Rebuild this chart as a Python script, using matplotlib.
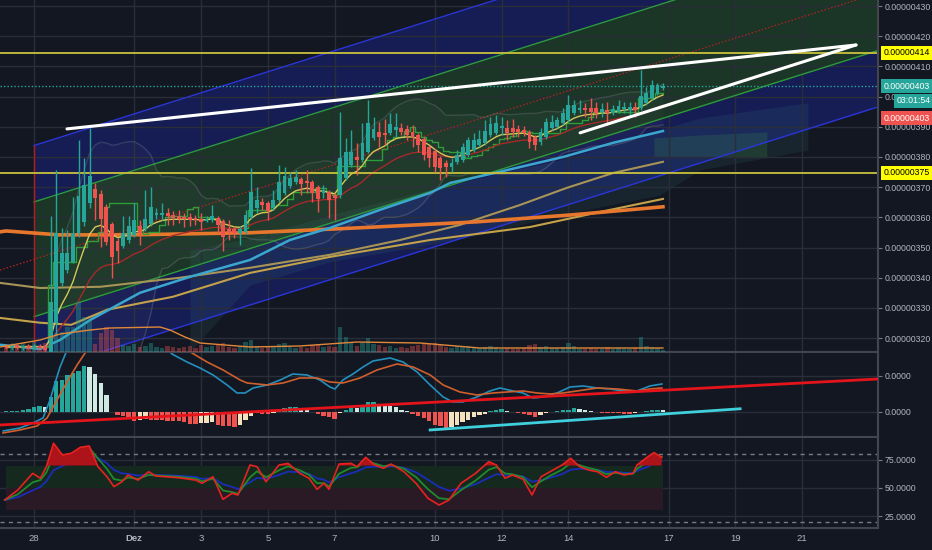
import numpy as np
import pandas as pd
import matplotlib
matplotlib.use('Agg')
import matplotlib.pyplot as plt
from matplotlib import transforms

plt.rcParams['font.family'] = ['Liberation Sans', 'DejaVu Sans']

BG = '#131722'
GRID = '#2a2e39'
SEP = '#434651'
TXT = '#b2b5be'
UP = '#26a69a'
DOWN = '#ef5350'
FS = 6.3

# x axis: days since 28 Nov, 4h candles
date_pos = [0, 3, 5, 7, 9, 12, 14, 16, 19, 21, 23]
date_labels = ['28', 'Dez', '3', '5', '7', '10', '12', '14', '17', '19', '21']
x_min, x_max = -1.018, 25.27

# price in satoshi (1e-8 BTC)
price_ticks = [320, 330, 340, 350, 360, 370, 380, 390, 400, 410, 420, 430]

opens = [317.2, 317.0, 317.6, 316.9, 317.3, 317.1, 317.5, 317.2,
         315.1, 325.1, 338.3, 342.6, 345.3, 354.9, 358.5, 364.8, 369.4, 367.8,
         363.5, 357.8, 352.2, 350.5, 352.5, 354.2, 357.2, 356.2, 357.8, 360.8,
         360.8, 361.5, 360.8, 360.3, 360.2, 360.0, 359.7, 359.6, 358.9, 359.2,
         359.7, 358.9, 356.1, 356.1, 354.8, 355.2, 360.2, 363.1, 365.2, 364.9,
         363.0, 365.8, 368.0, 370.4, 371.8, 372.7, 372.2, 371.8, 370.2, 368.0,
         368.5, 367.4, 367.4, 373.0, 377.4, 379.9, 379.0, 381.8, 386.2, 388.4,
         387.9, 387.9, 389.0, 389.7, 389.2, 388.2, 387.3, 385.9, 383.4, 382.0,
         379.6, 377.9, 376.8, 378.4, 379.0, 380.7, 382.3, 384.0, 384.6, 387.3,
         387.9, 389.5, 389.7, 389.5, 389.2, 389.0, 388.4, 386.7, 385.1, 386.7,
         389.5, 390.0, 391.2, 392.3, 394.5, 395.6, 396.1, 396.1, 396.1, 395.0,
         395.6, 394.5, 395.0, 395.8, 395.6, 396.7, 396.1, 397.8, 399.5, 401.1,
         402.8]
highs = [318.0, 318.3, 318.2, 317.8, 318.0, 318.2, 318.1, 317.8,
         360.3, 375.7, 356.5, 355.8, 366.9, 385.6, 379.7, 389.6, 371.3, 369.0,
         364.5, 358.5, 353.0, 360.3, 360.3, 364.7, 359.2, 369.1, 370.2, 363.0,
         364.7, 363.1, 362.2, 362.5, 361.6, 361.5, 360.8, 361.4, 360.5, 364.1,
         360.5, 359.5, 359.2, 357.0, 357.0, 362.5, 376.4, 370.2, 366.3, 365.5,
         369.1, 377.4, 376.8, 375.1, 375.7, 373.5, 375.7, 372.5, 370.8, 370.7,
         369.0, 368.0, 395.0, 386.2, 389.0, 384.6, 391.2, 398.9, 393.4, 391.7,
         392.5, 394.5, 394.5, 391.4, 390.6, 390.6, 388.0, 386.6, 384.0, 382.7,
         380.4, 379.0, 379.7, 382.3, 384.7, 386.6, 388.0, 389.0, 392.3, 393.4,
         393.9, 393.4, 392.3, 392.5, 390.6, 390.3, 389.0, 387.3, 389.6, 392.9,
         393.9, 393.4, 396.1, 400.5, 398.9, 398.9, 398.0, 399.4, 398.3, 397.8,
         398.3, 397.2, 398.9, 398.3, 398.3, 398.3, 408.8, 403.3, 405.5, 404.6,
         404.6]
lows = [316.4, 316.3, 316.5, 316.2, 316.5, 316.4, 316.6, 315.8,
        314.8, 321.0, 337.1, 341.5, 345.0, 353.5, 357.0, 363.0, 359.2, 350.3,
        350.9, 340.0, 344.8, 349.9, 351.5, 353.5, 350.9, 355.5, 357.0, 359.5,
        359.2, 357.5, 357.5, 358.0, 356.7, 357.0, 357.5, 355.8, 358.5, 358.5,
        354.8, 348.7, 352.5, 353.1, 350.9, 354.5, 359.5, 361.4, 362.5, 359.2,
        362.5, 365.0, 367.5, 369.8, 371.0, 367.4, 368.0, 365.2, 361.9, 366.3,
        359.7, 359.2, 366.5, 372.5, 376.8, 374.1, 378.4, 381.2, 385.6, 383.4,
        384.0, 387.3, 386.7, 387.3, 385.6, 383.4, 381.8, 379.0, 376.8, 375.1,
        372.4, 373.5, 375.0, 377.7, 378.4, 380.0, 381.7, 383.3, 384.0, 386.6,
        387.3, 387.3, 385.6, 386.7, 386.7, 387.0, 382.9, 382.3, 384.0, 386.0,
        389.0, 389.6, 390.6, 391.6, 393.9, 394.5, 393.4, 392.3, 392.8, 393.4,
        390.6, 393.9, 394.6, 394.5, 393.9, 393.4, 395.6, 397.2, 398.9, 400.5,
        402.2]
closes = [317.0, 317.6, 316.9, 317.3, 317.1, 317.5, 317.2, 316.0,
          332.1, 354.9, 348.2, 348.2, 354.9, 367.1, 370.7, 373.7, 366.4, 359.5,
          351.9, 346.9, 348.9, 354.9, 357.2, 359.2, 354.9, 359.5, 363.5, 361.4,
          361.4, 360.5, 359.8, 359.4, 359.5, 359.1, 359.1, 358.6, 359.5, 360.5,
          357.5, 353.4, 355.0, 354.8, 356.1, 360.8, 368.4, 365.8, 364.1, 362.1,
          365.8, 371.8, 373.7, 373.2, 373.5, 371.1, 371.3, 368.0, 366.1, 369.1,
          365.8, 366.3, 379.6, 381.8, 381.8, 379.0, 384.6, 391.2, 389.2, 386.5,
          387.3, 390.8, 390.0, 388.2, 387.3, 386.5, 384.0, 380.7, 379.6, 376.8,
          376.3, 376.8, 378.0, 380.7, 383.3, 385.6, 385.6, 385.9, 388.6, 390.8,
          391.2, 390.3, 387.9, 388.4, 388.4, 388.1, 385.1, 384.0, 388.4, 391.7,
          391.7, 392.3, 394.5, 397.2, 397.2, 396.1, 395.6, 395.0, 394.5, 395.8,
          394.5, 395.8, 396.9, 396.7, 396.7, 395.6, 400.2, 401.1, 403.9, 403.9,
          403.5]
volumes = [6, 8, 5, 9, 7, 10, 6, 9,
           14, 19, 20, 25, 25, 50, 35, 32, 8, 19, 25, 22, 14,
           7, 6, 8, 5, 6, 9, 5, 4, 6, 5, 4, 5, 6, 4, 7, 5, 6, 8, 9, 5,
           4, 6, 10, 12, 6, 4, 5, 5, 8, 9, 5, 4, 5, 4, 7, 8, 5, 6, 5,
           25, 15, 10, 6, 9, 14, 8, 7, 5, 6, 4, 5, 4, 6, 7, 9, 8, 9, 7, 5,
           4, 6, 5, 6, 4, 4, 5, 6, 5, 3, 4, 3, 3, 4, 7, 8, 5, 6, 4, 4,
           5, 9, 6, 3, 3, 4, 3, 3, 5, 3, 4, 3, 3, 4, 15, 6, 5, 4, 2]

# slow moving averages (day, price)
ma_slow_x = [-1.02, -0.84, 0.75, 2.87, 6.47, 9.67, 13.23, 16.08, 18.83]
ma_slow_y = [355.2, 355.5, 354.2, 354.2, 354.9, 356.5, 358.5, 360.8, 363.5]
ma_tan_x = [-1.02, 0.18, 1.98, 4.37, 6.47, 8.86, 10.96, 12.75, 14.55, 15.96, 17.34, 18.83]
ma_tan_y = [338.3, 336.6, 337.0, 340.0, 343.3, 347.6, 352.5, 357.5, 364.1, 369.8, 374.7, 378.4]
ma_gold_x = [-1.02, 0.18, 1.11, 2.19, 4.16, 6.47, 8.86, 11.86, 14.85, 16.95, 18.83]
ma_gold_y = [326.7, 325.1, 324.4, 329.4, 333.7, 341.6, 346.9, 352.5, 356.8, 361.8, 366.1]
ma_cyan_x = [-1.02, 0.18, 0.78, 1.68, 3.17, 4.67, 6.47, 7.66, 8.86, 10.36, 11.86, 12.46,
             13.95, 15.84, 17.34, 18.83]
ma_cyan_y = [317.8, 316.4, 319.4, 326.0, 335.0, 340.3, 345.9, 352.5, 356.5, 362.5, 368.1,
             371.4, 375.1, 380.0, 384.7, 388.6]

# ichimoku cloud outline
cloud_x = [4.67, 6.47, 8.86, 11.44, 13.35, 15.75, 18.74, 19.94, 22.04, 23.17]
cloud_hi = [349.2, 353.2, 360.8, 368.1, 373.1, 379.0, 389.0, 392.9, 396.2, 397.9]
cloud_lo = [315.5, 337.6, 345.3, 350.2, 354.2, 360.8, 367.4, 375.7, 380.0, 382.3]
kumo_x = [18.56, 19.94, 21.94]
kumo_hi = [386.3, 387.3, 388.3]
kumo_lo = [380.0, 380.0, 380.0]

# volume moving average
vol_ma_x = [-1.02, 0.18, 0.78, 1.68, 2.28, 3.77, 4.07, 4.52, 4.97, 6.47, 7.96, 9.67, 11.56, 13.35, 18.83]
vol_ma_y = [5, 12, 18, 22, 24, 25, 22, 15, 9, 5, 6, 10, 9, 4, 4]

# regression channel
channel_start = 0.0
channel_base = 346.1
channel_slope = 3.49
channel_inner = 19.0
channel_outer = 37.7

# drawn levels and trend lines
levels = [414.5, 374.7]
last_price = 403.5
trend_upper = ([0.988, 24.61], [389.3, 417.1])
trend_lower = ([16.35, 24.61], [388.0, 417.1])

# MACD (histogram per candle, lines as read points)
macd_hist = [0.7, 1.0, 1.3, 2.3, 3.0, 5.0, 5.7, 4.7,
             14.7, 30.7, 32.3, 37.3, 39.0, 40.7, 45.7, 45.0, 38.3, 29.0, 16.7,
             -0.5, -2.7, -3.7, -5.3, -8.7, -7.7, -7.0, -7.7, -7.9, -8.3, -8.7,
             -9.3, -9.5, -10.3, -11.7, -11.9, -11.0, -10.7, -10.3, -12.7, -13.7,
             -14.3, -15.0, -12.7, -7.7, -3.7, -1.0, -1.7, -2.0, -1.0, 1.7,
             4.0, 5.0, 5.3, 3.0, 1.7, 0.2, -1.7, -3.7, -5.0, -7.0,
             -1.0, 1.7, 5.0, 4.0, 6.3, 10.0, 10.3, 8.3, 6.3, 6.0,
             5.0, 2.3, 0.7, -1.7, -3.7, -6.0, -9.3, -12.7, -14.3, -16.0,
             -15.0, -12.7, -10.3, -7.7, -5.3, -3.3, -1.7, 1.3, 2.3, 3.3,
             1.3, 0.3, -1.0, -1.7, -2.7, -5.0, -2.7, -1.0, -0.3, 0.7,
             1.7, 2.3, 4.0, 3.0, 2.3, 1.3, 0.3, -1.0, -1.1, -1.3,
             -1.5, -1.7, -2.0, -1.0, -0.3, 0.7, 1.7, 2.3, 2.2]
macd_x = [-0.92, -0.42, -0.03, 0.27, 0.48, 0.63, 0.78, 0.99, 1.68, 2.57, 3.47, 4.13, 4.58,
          4.97, 5.36, 5.78, 6.08, 6.32, 6.56, 6.98, 7.37, 7.75, 8.17, 8.56, 8.86, 9.01,
          9.25, 9.55, 9.85, 10.15, 10.66, 11.05, 11.47, 11.86, 12.25, 12.54, 12.84, 13.26,
          13.65, 13.95, 14.34, 14.64, 14.94, 15.24, 15.66, 16.05, 16.44, 16.86, 17.25,
          17.63, 18.05, 18.44, 18.80]
macd_y = [-19, -16, -11, -6, 12, 29, 45, 62, 110, 118, 85, 58, 50,
          44, 37, 27, 19, 19, 24, 27, 32, 38, 37, 32, 25, 23,
          32, 38, 45, 51, 54, 50, 40, 27, 15, 10, 10, 15,
          21, 24, 21, 19, 14, 15, 19, 25, 26, 24, 23,
          21, 21, 26, 28]
signal_x = [-0.93, -0.42, 0.09, 0.39, 0.69, 0.99, 1.29, 1.53, 2.28, 3.17, 4.07, 4.73, 5.18,
            5.66, 6.17, 6.38, 6.98, 7.46, 7.96, 8.47, 8.86, 9.25, 9.76, 10.27, 10.87, 11.35,
            11.86, 12.25, 12.75, 13.26, 13.74, 14.16, 14.64, 15.06, 15.45, 15.84, 16.26,
            16.86, 17.46, 18.05, 18.44, 18.80]
signal_y = [-21, -18, -14, -6, 12, 30, 47, 59, 85, 90, 75, 59, 50,
            42, 32, 29, 27, 29, 34, 34, 30, 29, 34, 42, 48, 45,
            37, 27, 20, 17, 19, 20, 21, 19, 18, 19, 21,
            24, 23, 21, 23, 24]
macd_trend_red = ([-1.018, 25.27], [-13, 33])
macd_trend_cyan = ([11.86, 21.14], [-18, 3.2])

# RSI (read points)
rsi_x = [-0.874, -0.485, -0.039, 0.192, 0.371, 0.584, 0.850, 1.117, 1.386, 1.653,
         1.916, 2.186, 2.395, 2.635, 2.814, 3.114, 3.431, 3.647, 4.311, 4.850,
         5.030, 5.359, 5.659, 5.928, 6.108, 6.467, 6.677, 6.946, 7.335, 7.605,
         7.964, 8.234, 8.473, 8.683, 8.832, 9.132, 9.491, 9.671, 9.928, 10.198,
         10.464, 10.689, 11.078, 11.437, 11.796, 12.126, 12.425, 12.784, 13.222, 13.614,
         13.844, 14.102, 14.326, 14.641, 14.910, 15.180, 15.449, 15.808, 16.069, 16.338,
         16.605, 16.871, 17.138, 17.404, 17.665, 17.934, 18.054, 18.383, 18.563, 18.793]
rsi_y = [39.3, 48.2, 63.1, 58.7, 69.0, 90.0, 79.5, 81.0, 86.3, 87.5,
         69.0, 60.0, 51.2, 55.6, 61.6, 57.0, 64.5, 60.7, 59.2, 57.0,
         54.2, 60.0, 39.9, 45.2, 43.8, 70.5, 69.0, 55.6, 70.5, 72.0,
         63.0, 58.7, 48.8, 54.2, 48.8, 71.4, 72.0, 69.0, 77.4, 70.5,
         67.6, 71.4, 64.5, 54.2, 40.8, 34.8, 39.3, 54.2, 63.1, 73.5,
         70.5, 58.7, 61.6, 57.8, 43.8, 60.0, 64.5, 70.5, 76.5, 69.0,
         66.0, 64.5, 59.5, 64.5, 61.6, 63.0, 70.5, 78.0, 81.6, 77.4]


def ema(values, span):
    return pd.Series(values).ewm(span=span, adjust=False).mean().values


def right_ticks(a):
    a.yaxis.tick_right()
    a.tick_params(axis='y', which='both', right=True, left=False, labelright=True,
                  labelleft=False, color='#787b86', labelcolor=TXT, labelsize=FS,
                  length=3, pad=2)


def style_axes(a):
    a.set_facecolor(BG)
    a.set_xlim(x_min, x_max)
    for s in ['top', 'left']:
        a.spines[s].set_visible(False)
    for s in ['right', 'bottom']:
        a.spines[s].set_color(SEP)
        a.spines[s].set_linewidth(1.5)
    right_ticks(a)
    a.tick_params(axis='x', which='both', bottom=False, labelbottom=False)
    for p in date_pos:
        a.axvline(p, color=GRID, lw=1, zorder=0.9)


def main():
    fig = plt.figure(figsize=(9.32, 5.5), dpi=100, facecolor=BG)
    ax = fig.add_axes([0, 0.36, 0.9421, 0.64])
    ax_m = fig.add_axes([0, 0.2055, 0.9421, 0.1527])
    ax_r = fig.add_axes([0, 0.04, 0.9421, 0.1636])
    for a in (ax, ax_m, ax_r):
        style_axes(a)

    t = 0.5 + np.arange(-8, len(closes) - 8) / 6.0
    o = np.array(opens)
    h = np.array(highs)
    l = np.array(lows)
    c = np.array(closes)

    # ---------- main panel ----------
    ax.set_ylim(315.4, 432.0)
    ax.set_yticks(price_ticks)
    ax.set_yticklabels(['%.8f' % (p * 1e-8) for p in price_ticks])
    for p in price_ticks:
        ax.axhline(p, color=GRID, lw=1, zorder=0.9)

    xc = np.array([channel_start, x_max])
    mid = channel_base + channel_slope * (xc - channel_start)
    ax.fill_between(xc, mid + channel_inner, mid + channel_outer, color='#1a237e', alpha=0.55, lw=0, zorder=0.5)
    ax.fill_between(xc, mid - channel_outer, mid - channel_inner, color='#1a237e', alpha=0.55, lw=0, zorder=0.5)
    ax.fill_between(xc, mid - channel_inner, mid + channel_inner, color='#2e7d32', alpha=0.3, lw=0, zorder=0.5)
    for off, col in [(channel_outer, '#2a35d8'), (-channel_outer, '#2a35d8'),
                     (channel_inner, '#2c9a3c'), (-channel_inner, '#2c9a3c')]:
        ax.plot(xc, mid + off, color=col, lw=1, zorder=1.2)
    xm = np.array([x_min, x_max])
    ax.plot(xm, channel_base + channel_slope * (xm - channel_start), color='#b22222',
            lw=1, ls=(0, (1, 1.5)), zorder=1.2)
    ax.plot([channel_start, channel_start], [315.4, channel_base + channel_outer],
            color='#b71c1c', lw=1, zorder=1.2)

    ax.fill_between(cloud_x, cloud_lo, cloud_hi, color='#4db6ac', alpha=0.09, lw=0, zorder=0.8)
    ax.fill_between(kumo_x, kumo_lo, kumo_hi, color='#43a047', alpha=0.18, lw=0, zorder=0.8)

    # bollinger bands
    cs = pd.Series(c)
    bb_mid = cs.rolling(20, min_periods=10).mean()
    bb_std = cs.rolling(20, min_periods=10).std()
    bb_up = (bb_mid + 2 * bb_std).values
    bb_lo = (bb_mid - 2 * bb_std).values
    ax.fill_between(t, bb_lo, bb_up, color='#b2b5be', alpha=0.04, lw=0, zorder=1)
    ax.plot(t, bb_up, color='#9598a1', alpha=0.25, lw=1, zorder=1.3)
    ax.plot(t, bb_lo, color='#9598a1', alpha=0.25, lw=1, zorder=1.3)

    ax.plot(ma_tan_x, ma_tan_y, color='#a89456', lw=1.5, zorder=2)
    ax.plot(ma_gold_x, ma_gold_y, color='#c3a24a', lw=1.5, zorder=2)
    ax.plot(ma_slow_x, ma_slow_y, color='#e8772e', lw=2.6, zorder=2.1)
    ax.plot(ma_cyan_x, ma_cyan_y, color='#3ba7cf', lw=1.8, zorder=2.1)

    tenkan = (pd.Series(h).rolling(9, min_periods=1).max() + pd.Series(l).rolling(9, min_periods=1).min()) / 2
    ax.plot(t, tenkan.values, color='#2e9e3a', lw=1, zorder=2.2, drawstyle='steps-mid')
    ax.plot(t, ema(c, 21), color='#a52a2a', lw=1, zorder=2.2)
    ax.plot(t, ema(c, 9), color='#d6c75a', lw=1, zorder=2.3)

    for lv in levels:
        ax.axhline(lv, color='#c9c23c', lw=1.3, zorder=2.5)
    ax.axhline(last_price, color=UP, lw=1, ls=(0, (1, 1.5)), zorder=2.5)

    up = c >= o
    cols = np.where(up, UP, DOWN)
    ax.vlines(t, l, h, colors=cols, lw=1, zorder=4)
    body = np.maximum(np.abs(c - o), 0.35)
    ax.bar(t, body, bottom=np.minimum(o, c), width=0.115, color=cols, lw=0, zorder=4.5)

    ax.plot(*trend_upper, color='white', lw=2.2, zorder=5, solid_capstyle='round')
    ax.plot(*trend_lower, color='white', lw=2.2, zorder=5, solid_capstyle='round')

    ax_v = ax.twinx()
    ax_v.set_ylim(0, 352)
    ax_v.axis('off')
    ax_v.bar(t, volumes, width=0.13, color=np.where(up, '#26a69a', '#ef5350'), alpha=0.38, lw=0)
    ax_v.plot(vol_ma_x, vol_ma_y, color='#e0883a', lw=1)
    ax_v.set_xlim(x_min, x_max)
    right_ticks(ax)  # twinx moves the ticks of ax to the left

    trans = transforms.blended_transform_factory(ax.transAxes, ax.transData)
    boxes = [(1.006, 414.5, '0.00000414', '#ffff00', 'black'),
             (1.006, 374.7, '0.00000375', '#ffff00', 'black'),
             (1.006, 403.5, '0.00000403', UP, 'white'),
             (1.006, 392.9, '0.00000403', DOWN, 'white'),
             (1.021, 398.6, '03:01:54', UP, 'white')]
    for bx, by, txt, fc, tc in boxes:
        ax.text(bx, by, txt, transform=trans, ha='left', va='center', fontsize=FS,
                color=tc, clip_on=False, zorder=10,
                bbox=dict(boxstyle='square,pad=0.3', fc=fc, ec='none'))

    # ---------- MACD ----------
    ax_m.set_ylim(-25, 59)
    ax_m.set_yticks([0, 36])
    ax_m.set_yticklabels(['0.0000', '0.0000'])
    for v in [0, 36]:
        ax_m.axhline(v, color=GRID, lw=1, zorder=0.9)
    hist = np.array(macd_hist)
    prev = np.concatenate([[0.0], hist[:-1]])
    hcols = np.where(hist >= 0, np.where(hist > prev, '#26a69a', '#cfe9e2'),
                     np.where(hist > prev, '#f3e2bd', '#ef5350'))
    ax_m.bar(t, hist, width=0.13, color=hcols, lw=0, zorder=2)
    ax_m.plot(macd_x, macd_y, color='#2490bd', lw=1.2, zorder=3)
    ax_m.plot(signal_x, signal_y, color='#cf5f2c', lw=1.2, zorder=3)
    ax_m.plot(*macd_trend_red, color='#e5141b', lw=2, zorder=4)
    ax_m.plot(*macd_trend_cyan, color='#3fd0dc', lw=2, zorder=4)

    # ---------- RSI ----------
    ax_r.set_ylim(14.3, 94.6)
    ax_r.set_yticks([25, 50, 75])
    ax_r.set_yticklabels(['25.0000', '50.0000', '75.0000'])
    for v in [25, 50, 75]:
        ax_r.axhline(v, color=GRID, lw=1, zorder=0.9)
    band_x = [t[0], t[-1]]
    ax_r.fill_between(band_x, 50, 70, color='#16291f', lw=0, zorder=1)
    ax_r.fill_between(band_x, 30, 50, color='#2a1a25', lw=0, zorder=1)
    for v in [80, 20]:
        ax_r.axhline(v, color='#787b86', lw=1, ls=(0, (3, 3)), zorder=1.5)
    rx = np.array(rsi_x)
    ry = np.array(rsi_y)
    rg = ema(ry, 2.5)
    rb = ema(ry, 6)
    ax_r.plot(rx, rb, color='#1a2db8', lw=1.3, zorder=2)
    ax_r.plot(rx, rg, color='#1f8a2e', lw=1.3, zorder=2.1)
    ax_r.fill_between(rx, 70, ry, where=ry > 70, interpolate=True, color='#ad1419', lw=0, zorder=2.5)
    ax_r.plot(rx, ry, color='#e8221f', lw=1.2, zorder=3)

    ax_r.set_xticks(date_pos)
    ax_r.set_xticklabels(date_labels)
    ax_r.tick_params(axis='x', bottom=True, labelbottom=True, length=0, pad=4,
                     labelsize=FS + 0.5, labelcolor=TXT)
    for lab in ax_r.get_xticklabels():
        if lab.get_text() == 'Dez':
            lab.set_fontweight('bold')

    fig.savefig('out.png', dpi=100, facecolor=BG)


if __name__ == '__main__':
    main()
